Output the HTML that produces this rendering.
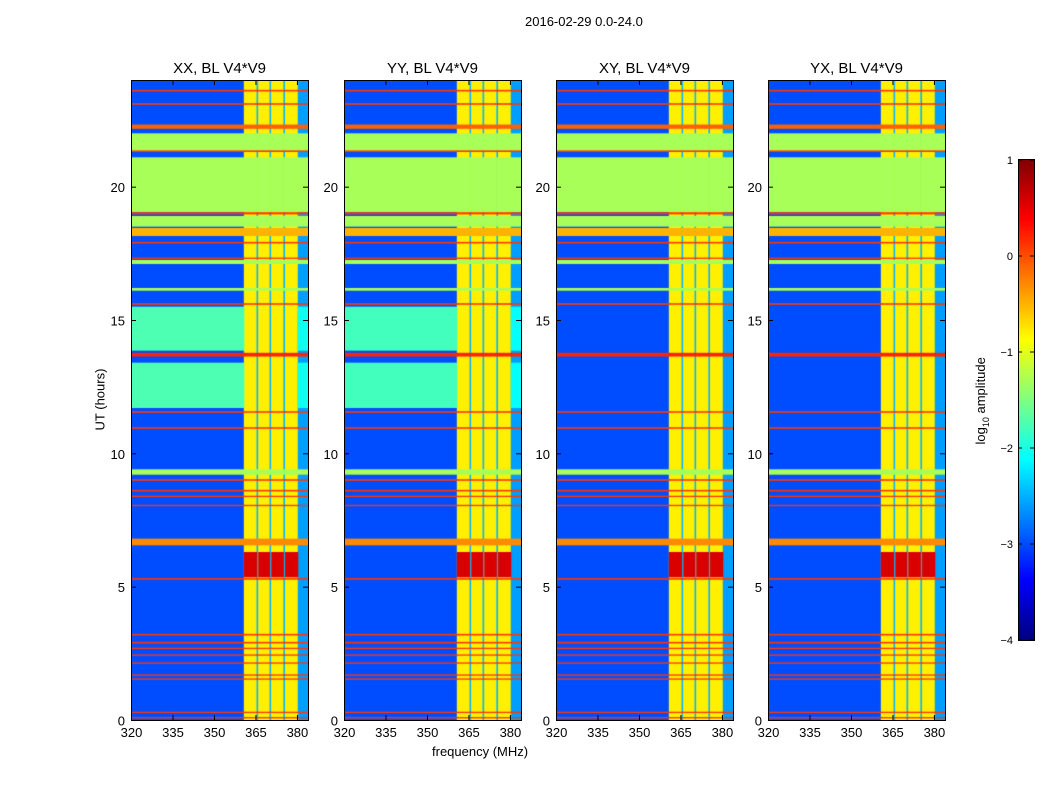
<!DOCTYPE html>
<html><head><meta charset="utf-8"><style>
body{margin:0;background:#fff;font-family:"Liberation Sans",sans-serif;}
#wrap{position:relative;width:1050px;height:800px;overflow:hidden;}
.t{position:absolute;font-size:13px;color:#000;white-space:nowrap;}
canvas{position:absolute;}
</style></head><body>
<div id="wrap">
<div class="t" style="left:525px;top:14px">2016-02-29 0.0-24.0</div>
<div class="t" style="left:432px;top:744px">frequency (MHz)</div>
<div class="t" style="left:55px;top:392px;transform:rotate(-90deg);transform-origin:center;width:90px;text-align:center">UT (hours)</div>
<div class="t" style="left:932px;top:392px;transform:rotate(-90deg);width:100px;text-align:center">log<sub style="font-size:9px">10</sub> amplitude</div>
<canvas id="cb" width="16" height="481" style="left:1018px;top:159px"></canvas>
<svg id="ov" width="1050" height="800" style="position:absolute;left:0;top:0"></svg>
</div>
<script>
const panelTitles=["XX, BL V4*V9","YY, BL V4*V9","XY, BL V4*V9","YX, BL V4*V9"];
const panelLefts=[131,344,556,768];
const xTicks=[320,335,350,365,380];
const yTicks=[0,5,10,15,20];
const cbTicks=[1,0,-1,-2,-3,-4];
const bgLevel=-3.0, rfiLevel=-0.8, gapLevel=-2.5, tailLevel=-2.6;
const segStart=[320,360.8,365.4,366.0,370.1,370.7,375.1,375.7,380.3];
const segEnd=[360.8,365.4,366.0,370.1,370.7,375.1,375.7,380.3,384];
const segKind=['bg','rfi','gap','rfi','gap','rfi','gap','rfi','tail'];
const bandStart=[23.57,23.07,22.17,21.3,21.3,19.05,18.96,18.5,18.15,17.87,17.1,17.29,16.1,15.57,13.63,11.52,10.92,9.2,8.97,8.57,8.36,8.02,6.55,5.35,5.26,3.17,2.87,2.66,2.41,2.11,1.66,1.51,0.26,0.06];
const bandEnd=[23.63,23.13,22.33,22.0,21.36,21.1,19.04,18.9,18.45,17.93,17.25,17.34,16.2,15.63,13.77,11.58,10.98,9.4,9.03,8.63,8.41,8.07,6.8,6.3,5.32,3.23,2.93,2.71,2.46,2.16,1.71,1.56,0.31,0.11];
const bandValue=[0.1,0.1,-0.1,-1.3,0.1,-1.3,0.1,-1.3,-0.5,0.1,-1.3,0.1,-1.3,0.1,0.2,0.1,0.1,-1.3,0.1,0.1,0.1,0.1,-0.3,0.55,0.1,0.1,0.1,0.1,0.1,0.1,0.1,0.1,0.1,0.1];
const bandKind=['all','all','all','all','all','all','all','all','all','all','all','all','all','all','all','all','all','all','all','all','all','all','all','rfi','all','all','all','all','all','all','all','all','all','all'];
const extraStart=[[13.85,11.7],[13.85,11.7],[],[]];
const extraEnd=[[15.5,13.4],[15.5,13.4],[],[]];
const extraValue=[[-1.75,-1.75],[-1.8,-1.8],[],[]];

const PT=80,PH=640,PW=177,F0=320,F1=384,H1=24;
function xs(f){return (f-F0)/(F1-F0)*PW;}
function ys(h){return PH-h/H1*PH;}
function jet(v){let t=(v+4)/5;t=Math.max(0,Math.min(1,t));
 const c=x=>Math.max(0,Math.min(1,x));
 const r=c(1.5-Math.abs(4*t-3)),g=c(1.5-Math.abs(4*t-2)),b=c(1.5-Math.abs(4*t-1));
 return `rgb(${Math.round(r*255)},${Math.round(g*255)},${Math.round(b*255)})`;}
function segVal(kind,bg,rfi){return kind==='rfi'?rfi:kind==='gap'?gapLevel:kind==='tail'?tailLevel:bg;}
const wrap=document.getElementById('wrap');
const ov=document.getElementById('ov');
const NS="http://www.w3.org/2000/svg";
function line(x1,y1,x2,y2,name){const l=document.createElementNS(NS,'line');l.setAttribute('x1',x1);l.setAttribute('y1',y1);l.setAttribute('x2',x2);l.setAttribute('y2',y2);l.setAttribute('stroke','#000');l.setAttribute('stroke-width','1');


ov.appendChild(l);}
function txt(x,y,s,anchor,size,name){const t=document.createElementNS(NS,'text');t.setAttribute('x',x);t.setAttribute('y',y);t.setAttribute('text-anchor',anchor);t.setAttribute('font-size',size);t.setAttribute('font-family','Liberation Sans, sans-serif');t.textContent=s;


ov.appendChild(t);}
panelLefts.forEach((L,p)=>{
 const cv=document.createElement('canvas');cv.width=PW;cv.height=PH;cv.style.left=L+'px';cv.style.top=PT+'px';
 
 
 wrap.insertBefore(cv,ov);
 const g=cv.getContext('2d');
 segKind.forEach((k,i)=>{g.fillStyle=jet(segVal(k,bgLevel,rfiLevel));g.fillRect(xs(segStart[i]),0,xs(segEnd[i])-xs(segStart[i])+0.5,PH);});
 extraStart[p].forEach((s,j)=>{const y0=ys(extraEnd[p][j]),y1=ys(s);
  segKind.forEach((k,i)=>{if(k!=='bg'&&k!=='tail')return;g.fillStyle=jet(k==='bg'?extraValue[p][j]:extraValue[p][j]-0.3);g.fillRect(xs(segStart[i]),y0,xs(segEnd[i])-xs(segStart[i])+0.5,y1-y0);});});
 bandStart.forEach((s,j)=>{const y0=ys(bandEnd[j]),y1=ys(s),v=bandValue[j],bk=bandKind[j];
  segKind.forEach((k,i)=>{
   if(bk==='rfi'&&k!=='rfi')return;
   g.fillStyle=jet(v);g.fillRect(xs(segStart[i]),y0,xs(segEnd[i])-xs(segStart[i])+0.5,Math.max(1,y1-y0));});});
 const r=document.createElementNS(NS,'rect');r.setAttribute('x',L+0.5);r.setAttribute('y',PT+0.5);r.setAttribute('width',PW);r.setAttribute('height',PH);r.setAttribute('fill','none');r.setAttribute('stroke','#000');
 
 
 ov.appendChild(r);
 txt(L+PW/2,PT-7,panelTitles[p],'middle',15,'panel-title-'+(p+1));
 xTicks.forEach(f=>{const x=L+xs(f)+0.5;line(x,PT+PH,x,PT+PH-5,'x-tick');line(x,PT,x,PT+5,'x-tick-top');txt(x,PT+PH+17,String(f),'middle',13,'x-tick-label');});
 yTicks.forEach(h=>{const y=PT+ys(h)+0.5;line(L,y,L+5,y,'y-tick');line(L+PW,y,L+PW-5,y,'y-tick-right');txt(L-6,y+5,String(h),'end',13,'y-tick-label');});
});
const cb=document.getElementById('cb').getContext('2d');
for(let i=0;i<481;i++){cb.fillStyle=jet(1-i/480*5);cb.fillRect(0,i,16,1);}
const cr=document.createElementNS(NS,'rect');cr.setAttribute('x',1018.5);cr.setAttribute('y',159.5);cr.setAttribute('width',16);cr.setAttribute('height',481);cr.setAttribute('fill','none');cr.setAttribute('stroke','#000');


ov.appendChild(cr);
cbTicks.forEach(v=>{const y=160+(1-v)/5*480;txt(1013,y+4,v<0?'\u2212'+(-v):String(v),'end',11,'colorbar-tick-label');line(1018,y,1022,y,'colorbar-tick');line(1034,y,1030,y,'colorbar-tick-right');});
</script>
</body></html>
